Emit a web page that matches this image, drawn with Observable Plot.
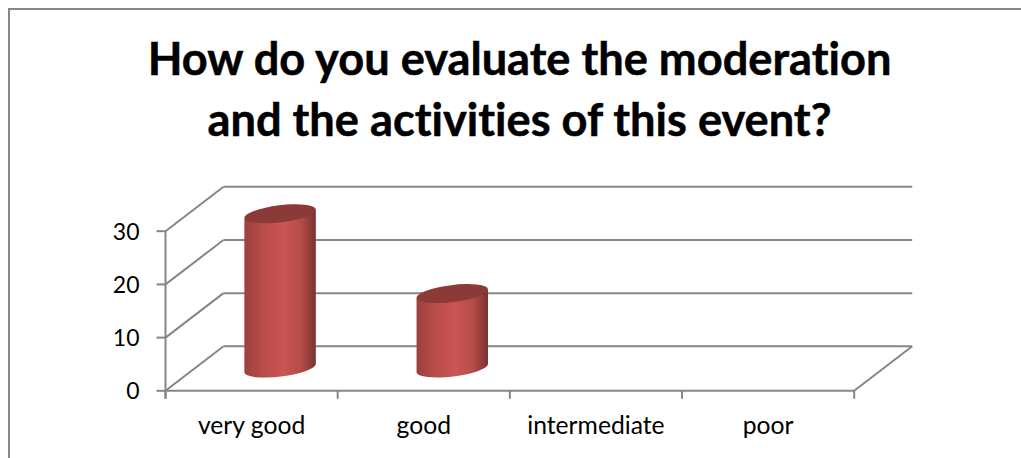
<!DOCTYPE html>
<html>
<head>
<meta charset="utf-8">
<script src="https://cdn.jsdelivr.net/npm/d3@7"></script>
<script src="https://cdn.jsdelivr.net/npm/@observablehq/plot@0.6"></script>
<style>
html,body{margin:0;padding:0;background:#fff;width:1021px;height:458px;overflow:hidden}
#frame{position:absolute;left:8px;top:8px;width:1030px;height:470px;border:2px solid #868686;box-sizing:border-box}
#title{position:absolute;left:0;top:0;width:1039px;height:175px;text-align:center;font:700 45.2px/61px Lato,sans-serif;font-variant-ligatures:none;-webkit-text-stroke:0.5px #000;color:#000;padding-top:27px;box-sizing:border-box}
#chart{position:absolute;left:0;top:175px}
svg{display:block}
</style>
</head>
<body>
<div id="frame"></div>
<div id="title">How do you evaluate the moderation<br>and the activities of this event?</div>
<div id="chart"></div>
<script>
const categories = ["very good", "good", "intermediate", "poor"];
const values = [29, 14, 0, 0];
const yTicks = [0, 10, 20, 30];
const xTicks = [0, 1, 2, 3, 4];

const grey = "#868686";
// the oblique depth of the 3-D box, in data units
const depthX = 0.337, depthY = 8.36;
const barWidth = 0.418;
const rows = values.map((v, i) => ({cat: categories[i], i, v})).filter(d => d.v > 0);

function cylinders(index, {x, y}) {
  const g = d3.create("svg:g");
  for (const i of index) {
    const d = rows[i];
    const cx = x(d.i + 0.5 + depthX / 2);
    const rx = (x(barWidth) - x(0)) / 2;
    const ry = 8.5, rot = -7;
    const a = rot * Math.PI / 180;
    const ex = rx * Math.cos(a), ey = rx * Math.sin(a);
    const by = y(depthY / 2), ty = y(d.v + depthY / 2);
    g.append("path")
      .attr("d", `M${cx - ex},${ty - ey}L${cx - ex},${by - ey}A${rx},${ry} ${rot} 0 0 ${cx + ex},${by + ey}L${cx + ex},${ty + ey}Z`)
      .attr("fill", "url(#cyl)");
    g.append("ellipse")
      .attr("cx", cx).attr("cy", ty).attr("rx", rx).attr("ry", ry)
      .attr("transform", `rotate(${rot} ${cx} ${ty})`)
      .attr("fill", "#8b3a38");
  }
  return g.node();
}

const plot = Plot.plot({
  width: 1021,
  height: 283,
  margin: 0,
  x: {type: "linear", domain: [0, 4], range: [165, 853.7], axis: null},
  y: {type: "linear", domain: [0, 30], range: [215.3, 55.7], axis: null},
  style: {fontFamily: "Lato, sans-serif", fontSize: "21px", color: "#000", background: "transparent", overflow: "visible"},
  marks: [
    () => {
      const s = d3.create("svg:defs");
      const g = s.append("linearGradient").attr("id", "cyl");
      [[0, "#9a3f3d"], [0.25, "#b84c49"], [0.55, "#cb5553"], [0.8, "#b54b48"], [1, "#773231"]]
        .forEach(([o, c]) => g.append("stop").attr("offset", o).attr("stop-color", c));
      return s.node();
    },
    // back wall gridlines
    Plot.link(yTicks, {x1: depthX, x2: 4 + depthX, y1: d => d + depthY, y2: d => d + depthY, stroke: grey, strokeWidth: 2}),
    // side wall gridlines
    Plot.link(yTicks, {x1: 0, x2: depthX, y1: d => d, y2: d => d + depthY, stroke: grey, strokeWidth: 2}),
    // floor
    Plot.link([0], {x1: 4, x2: 4 + depthX, y1: 0, y2: depthY, stroke: grey, strokeWidth: 2}),
    Plot.link([0], {x1: 0, x2: 4, y1: 0, y2: 0, stroke: grey, strokeWidth: 2}),
    // value axis
    Plot.link([0], {x1: 0, x2: 0, y1: -1.5, y2: 30, stroke: grey, strokeWidth: 2}),
    Plot.link(yTicks, {x1: -0.052, x2: 0, y1: d => d, y2: d => d, stroke: grey, strokeWidth: 2}),
    Plot.text(yTicks, {x: 0, y: d => d, dx: -26, dy: 1, textAnchor: "end", text: d => String(d), fill: "#000", fontSize: 23}),
    // category axis
    Plot.link(xTicks, {x1: d => d, x2: d => d, y1: 0, y2: -1.5, stroke: grey, strokeWidth: 2}),
    Plot.text(categories, {x: (d, i) => i + 0.5, y: 0, dy: 35, text: d => d, fill: "#000", fontSize: 24.7}),
    // bars
    Plot.rect(rows, {x1: "i", x2: "i", y1: 0, y2: "v", render: cylinders})
  ]
});
document.getElementById("chart").append(plot);
</script>
</body>
</html>
